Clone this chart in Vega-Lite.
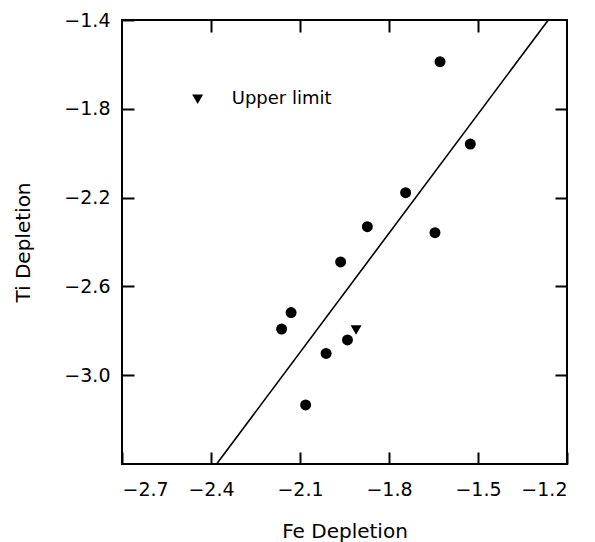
{
  "$schema": "https://vega.github.io/schema/vega-lite/v6.json",
  "width": 445,
  "height": 444,
  "autosize": "none",
  "padding": {"left": 122, "top": 20, "right": 28, "bottom": 78},
  "background": "white",
  "config": {
    "view": {"stroke": "black", "strokeWidth": 2},
    "font": "DejaVu Sans",
    "axis": {
      "domain": false,
      "grid": false,
      "tickColor": "black",
      "tickWidth": 2,
      "tickSize": 12,
      "offset": -12,
      "labelColor": "black",
      "labelFont": "DejaVu Sans",
      "labelFontSize": 19,
      "titleColor": "black",
      "titleFont": "DejaVu Sans",
      "titleFontSize": 20,
      "titleFontWeight": "normal"
    }
  },
  "datasets": {
    "obs": [
      {"fe": -1.628, "ti": -1.588, "kind": "detection"},
      {"fe": -1.526, "ti": -1.959, "kind": "detection"},
      {"fe": -1.744, "ti": -2.178, "kind": "detection"},
      {"fe": -1.873, "ti": -2.331, "kind": "detection"},
      {"fe": -1.645, "ti": -2.358, "kind": "detection"},
      {"fe": -1.963, "ti": -2.490, "kind": "detection"},
      {"fe": -2.130, "ti": -2.718, "kind": "detection"},
      {"fe": -2.162, "ti": -2.792, "kind": "detection"},
      {"fe": -1.940, "ti": -2.841, "kind": "detection"},
      {"fe": -2.012, "ti": -2.902, "kind": "detection"},
      {"fe": -2.081, "ti": -3.134, "kind": "detection"},
      {"fe": -1.911, "ti": -2.796, "kind": "upper limit"}
    ],
    "fit": [
      {"fe": -2.381, "ti": -3.4},
      {"fe": -1.263, "ti": -1.4}
    ],
    "legend": [
      {"fe": -2.445, "ti": -1.757, "label": "Upper limit", "tx": -2.33}
    ]
  },
  "layer": [
    {
      "data": {"name": "obs"},
      "transform": [{"filter": "datum.kind === 'detection'"}],
      "mark": {"type": "point", "shape": "circle", "filled": true, "color": "black", "opacity": 1, "size": 120},
      "encoding": {
        "x": {
          "field": "fe", "type": "quantitative",
          "scale": {"domain": [-2.7, -1.2], "nice": false, "zero": false},
          "axis": {"orient": "bottom", "values": [-2.7, -2.4, -2.1, -1.8, -1.5, -1.2], "format": ".1f", "labelPadding": 16, "title": "Fe Depletion", "titlePadding": 22}
        },
        "y": {
          "field": "ti", "type": "quantitative",
          "scale": {"domain": [-3.4, -1.4], "nice": false, "zero": false},
          "axis": {"orient": "left", "values": [-3.0, -2.6, -2.2, -1.8, -1.4], "format": ".1f", "labelPadding": 12, "title": "Ti Depletion", "titlePadding": 30}
        }
      }
    },
    {
      "data": {"name": "obs"},
      "transform": [{"filter": "datum.kind === 'upper limit'"}],
      "mark": {"type": "point", "shape": "triangle-down", "filled": true, "color": "black", "opacity": 1, "size": 120},
      "encoding": {
        "x": {"field": "fe", "type": "quantitative", "axis": {"orient": "top", "values": [-2.4, -2.1, -1.8, -1.5], "labels": false, "title": null}},
        "y": {"field": "ti", "type": "quantitative", "axis": {"orient": "right", "values": [-3.0, -2.6, -2.2, -1.8], "labels": false, "title": null}}
      }
    },
    {
      "data": {"name": "fit"},
      "mark": {"type": "line", "color": "black", "strokeWidth": 1.6},
      "encoding": {
        "x": {"field": "fe", "type": "quantitative", "axis": null},
        "y": {"field": "ti", "type": "quantitative", "axis": null}
      }
    },
    {
      "data": {"name": "legend"},
      "mark": {"type": "point", "shape": "triangle-down", "filled": true, "color": "black", "opacity": 1, "size": 120},
      "encoding": {
        "x": {"field": "fe", "type": "quantitative", "axis": null},
        "y": {"field": "ti", "type": "quantitative", "axis": null}
      }
    },
    {
      "data": {"name": "legend"},
      "mark": {"type": "text", "align": "left", "baseline": "middle", "fontSize": 18, "color": "black", "font": "DejaVu Sans"},
      "encoding": {
        "x": {"field": "tx", "type": "quantitative", "axis": null},
        "y": {"field": "ti", "type": "quantitative", "axis": null},
        "text": {"field": "label"}
      }
    }
  ],
  "resolve": {"axis": {"x": "independent", "y": "independent"}}
}
